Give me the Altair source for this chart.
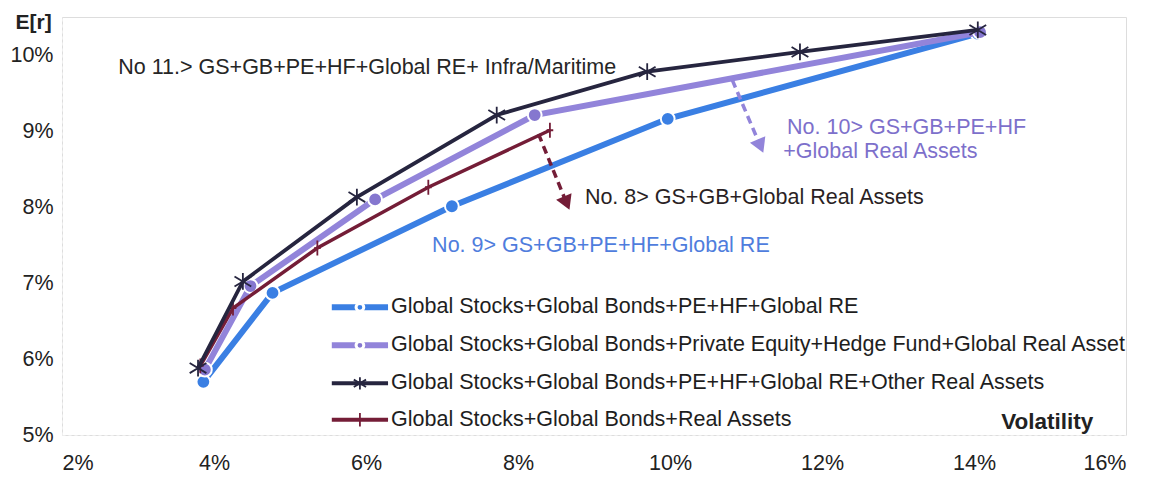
import altair as alt
import pandas as pd

# ---------------- data ----------------
series_names = [
    "Global Stocks+Global Bonds+PE+HF+Global RE",
    "Global Stocks+Global Bonds+Private Equity+Hedge Fund+Global Real Asset",
    "Global Stocks+Global Bonds+PE+HF+Global RE+Other Real Assets",
    "Global Stocks+Global Bonds+Real Assets",
]
blue_vol = [3.86, 4.77, 7.13, 9.97, 14.05]
blue_ret = [5.70, 6.87, 8.01, 9.16, 10.28]
purple_vol = [3.88, 4.48, 6.12, 8.22, 14.08]
purple_ret = [5.86, 6.96, 8.10, 9.21, 10.30]
navy_vol = [3.79, 4.38, 5.88, 7.72, 9.70, 11.71, 14.05]
navy_ret = [5.88, 7.02, 8.13, 9.21, 9.78, 10.04, 10.33]
maroon_vol = [3.82, 4.25, 5.36, 6.82, 8.42]
maroon_ret = [5.91, 6.67, 7.46, 8.26, 9.01]

x_ticks = [2, 4, 6, 8, 10, 12, 14, 16]
y_ticks = [5, 6, 7, 8, 9, 10]

ann_texts = [
    "No 11.> GS+GB+PE+HF+Global RE+ Infra/Maritime",
    "No. 10> GS+GB+PE+HF",
    "+Global Real Assets",
    "No. 8> GS+GB+Global Real Assets",
    "No. 9> GS+GB+PE+HF+Global RE",
]

# ---------------- styles ----------------
FONT = "Liberation Sans"
FS = 21.5
BLUE = "#3a7fe3"
PURPLE = "#9284da"
PURPLE_MK = "#8577cf"
NAVY = "#26253f"
MAROON = "#741d37"
ASTER = "M-1,-0.6L1,0.6M-1,0.6L1,-0.6M0,-1L0,1"
CROSS = "M0,-1L0,1M-0.45,0L0.45,0"

X = alt.X("vol:Q", scale=alt.Scale(domain=[2, 16], nice=False),
          axis=alt.Axis(values=x_ticks, labelExpr="datum.value + '%'", title=None,
                        ticks=False, grid=False, domainColor="#eeeeee", domainDash=[3, 3],
                        labelFontSize=FS, labelFont=FONT, labelColor="#222222",
                        labelPadding=17))
Y = alt.Y("ret:Q", scale=alt.Scale(domain=[5, 10.5], nice=False),
          axis=alt.Axis(values=y_ticks, labelExpr="datum.value + '%'", title="E[r]",
                        titleAngle=0, titleAlign="left", titleBaseline="middle",
                        titleX=-47, titleY=5, titleFont=FONT, titleFontSize=21,
                        titleFontWeight="bold", titleColor="#222222",
                        ticks=False, grid=False, domainColor="#eeeeee", domainDash=[3, 3],
                        labelFontSize=FS, labelFont=FONT, labelColor="#222222",
                        labelPadding=9))


def series_df(vol, ret):
    return pd.DataFrame({"vol": vol, "ret": ret})


def series_layers(vol, ret, color, width, shape, mk_color, size, filled):
    df = series_df(vol, ret)
    base = alt.Chart(df)
    line = base.mark_line(color=color, strokeWidth=width).encode(x=X, y=Y)
    if filled:
        pts = base.mark_point(shape=shape, filled=True, fill=mk_color, stroke="white",
                              strokeWidth=2, size=size, opacity=1).encode(x="vol:Q", y="ret:Q")
    else:
        pts = base.mark_point(shape=shape, filled=False, stroke=mk_color, strokeWidth=1.8,
                              size=size, opacity=1).encode(x="vol:Q", y="ret:Q")
    return [line, pts]


layers = []
layers += series_layers(blue_vol, blue_ret, BLUE, 6, "circle", BLUE, 190, True)
layers += series_layers(purple_vol, purple_ret, PURPLE, 6, "circle", PURPLE_MK, 190, True)
layers += series_layers(maroon_vol, maroon_ret, MAROON, 3.5, CROSS, MAROON, 220, False)
layers += series_layers(navy_vol, navy_ret, NAVY, 3.8, ASTER, NAVY, 280, False)

# ---------------- annotation arrows ----------------
def arrow(x0, y0, x1, y1, color, angle):
    d = pd.DataFrame({"vol": [x0], "ret": [y0], "vol2": [x1], "ret2": [y1]})
    r = alt.Chart(d).mark_rule(color=color, strokeWidth=3.5, strokeDash=[8, 5]).encode(
        x="vol:Q", y="ret:Q", x2="vol2:Q", y2="ret2:Q")
    h = alt.Chart(d).mark_point(shape="triangle-down", filled=True, fill=color, size=280,
                                angle=angle, opacity=1).encode(x="vol2:Q", y="ret2:Q")
    return [r, h]

layers += arrow(10.82, 9.67, 11.19, 8.80, PURPLE, 337)
layers += arrow(8.27, 8.96, 8.64, 8.05, MAROON, 337)

# ---------------- annotation texts ----------------
def text_layer(txt, x, y, color, size=FS, weight="normal", align="left"):
    d = pd.DataFrame({"vol": [x], "ret": [y], "t": [txt]})
    return alt.Chart(d).mark_text(align=align, baseline="middle", font=FONT, fontSize=size,
                                  fontWeight=weight, color=color).encode(
        x="vol:Q", y="ret:Q", text="t:N")

layers.append(text_layer(ann_texts[0], 2.74, 9.83, "#262626"))
layers.append(text_layer(ann_texts[1], 11.54, 9.04, "#7d70cb"))
layers.append(text_layer(ann_texts[2], 11.49, 8.72, "#7d70cb"))
layers.append(text_layer(ann_texts[3], 8.88, 8.12, "#2a1f24"))
layers.append(text_layer(ann_texts[4], 6.87, 7.49, "#4f7ddd"))
layers.append(text_layer("Volatility", 15.57, 5.17, "#222222", size=22.5, weight="bold",
                         align="right"))

# ---------------- legend (drawn in data space) ----------------
leg_x0, leg_x1, leg_xt = 5.55, 6.29, 6.33
leg_y = [6.68, 6.18, 5.68, 5.20]
leg_styles = [
    (BLUE, 6, "circle", BLUE, 60, True),
    (PURPLE, 6, "circle", PURPLE_MK, 60, True),
    (NAVY, 4, ASTER, NAVY, 150, False),
    (MAROON, 4, CROSS, MAROON, 180, False),
]
for name, yy, st in zip(series_names, leg_y, leg_styles):
    color, w, shape, mk, size, filled = st
    d = pd.DataFrame({"vol": [leg_x0], "vol2": [leg_x1], "ret": [yy],
                      "mid": [(leg_x0 + leg_x1) / 2], "t": [name], "tx": [leg_xt]})
    layers.append(alt.Chart(d).mark_rule(color=color, strokeWidth=w).encode(
        x="vol:Q", x2="vol2:Q", y="ret:Q"))
    if filled:
        layers.append(alt.Chart(d).mark_point(shape=shape, filled=True, fill=mk, stroke="white",
                                              strokeWidth=3, size=size, opacity=1).encode(
            x="mid:Q", y="ret:Q"))
    else:
        layers.append(alt.Chart(d).mark_point(shape=shape, filled=False, stroke=mk,
                                              strokeWidth=1.8, size=size, opacity=1).encode(
            x="mid:Q", y="ret:Q"))
    layers.append(alt.Chart(d).mark_text(align="left", baseline="middle", font=FONT,
                                         fontSize=FS, color="#1e1e1e").encode(
        x="tx:Q", y="ret:Q", text="t:N"))

chart = alt.layer(*layers).properties(
    width=1064, height=418,
    autosize=alt.AutoSizeParams(type="none"),
    padding={"left": 54, "top": 9, "right": 20, "bottom": 42},
).configure_view(stroke=None).configure(background="white")

chart.save("out.html", embed_options={"renderer": "svg", "actions": False})
